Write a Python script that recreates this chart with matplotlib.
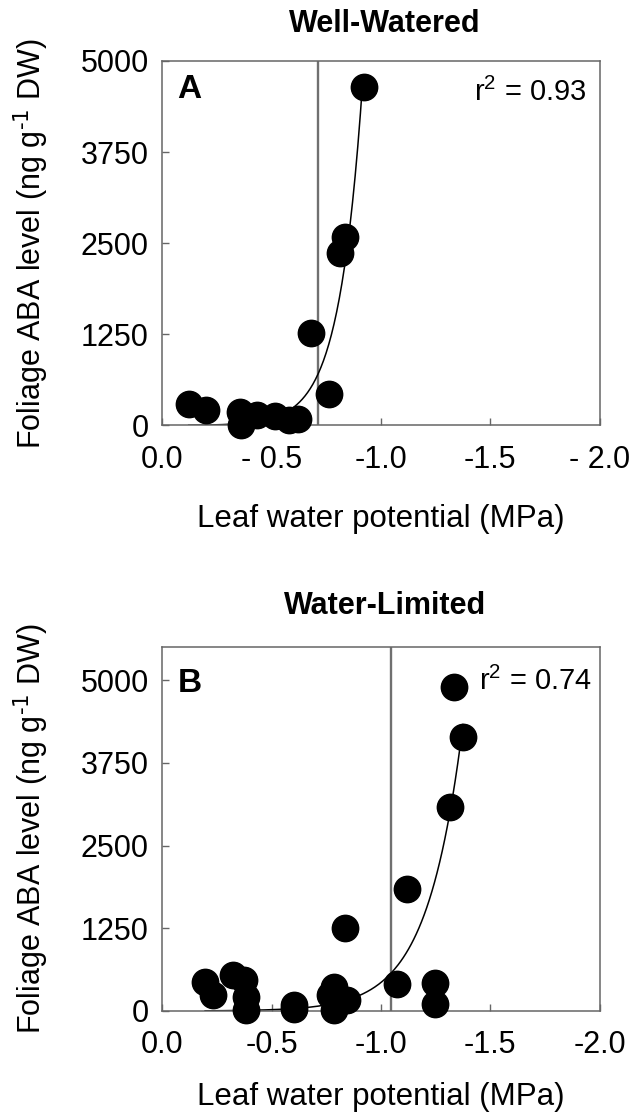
import matplotlib

matplotlib.use("Agg")
import matplotlib.pyplot as plt
import numpy as np

plt.rcParams.update({"font.family": ["Liberation Sans", "DejaVu Sans"]})
plt.rcParams.update({"mathtext.default": "regular"})

# panel A - well-watered
wet_psi = [-0.12, -0.20, -0.356, -0.36, -0.433, -0.517, -0.58, -0.62,
           -0.68, -0.76, -0.813, -0.833, -0.922]
wet_aba = [290, 206, 190, 10, 150, 125, 80, 90,
           1270, 430, 2370, 2580, 4640]

# panel B - water-limited
dry_psi = [-0.195, -0.233, -0.325, -0.371, -0.383, -0.383, -0.60, -0.60,
           -0.768, -0.784, -0.784, -0.845, -0.837, -1.074, -1.12,
           -1.245, -1.245, -1.314, -1.334, -1.375]
dry_aba = [438, 237, 539, 463, 211, 15, 90, 25,
           237, 362, 10, 161, 1258, 403, 1847,
           430, 110, 3078, 4890, 4135]

# exponential fits, ABA = a * exp(b * |psi|)
fit_a = [0.94, 0.92]
fit_b = [9.3, 6.15]
fit_r2 = ["0.93", "0.74"]
threshold = [-0.712, -1.044]

titles = ["Well-Watered", "Water-Limited"]
letters = ["A", "B"]
x_ticks = [0, -0.5, -1.0, -1.5, -2.0]
x_labels = [["0.0", "- 0.5", "-1.0", "-1.5", "- 2.0"],
            ["0.0", "-0.5", "-1.0", "-1.5", "-2.0"]]
y_ticks = [0, 1250, 2500, 3750, 5000]
y_top = [5000, 5500]

fig = plt.figure(figsize=(6.31, 11.17), dpi=100)
axes = [fig.add_axes([0.2575, 0.6191, 0.6926, 0.3263]),
        fig.add_axes([0.2575, 0.0949, 0.6926, 0.3259])]

panels = [(wet_psi, wet_aba), (dry_psi, dry_aba)]
title_y = [1.08, 1.09]
letter_y = [0.898, 0.877]
r2_pos = [(0.97, 0.89), (0.983, 0.882)]
xlabel_y = [-0.215, -0.196]

for i, ax in enumerate(axes):
    X, Y = panels[i]
    ax.axvline(threshold[i], color="#707070", linewidth=1.7, zorder=1)
    xs = np.linspace(min(X), max(X), 200)
    ys = fit_a[i] * np.exp(fit_b[i] * np.abs(xs))
    keep = ys <= y_top[i] * 0.985
    ax.plot(xs[keep], ys[keep], color="k", linewidth=1.1, zorder=2)
    ax.plot(X, Y, "o", color="k", markersize=19, zorder=3, clip_on=False)

    ax.set_xlim(0, -2.0)
    ax.set_ylim(0, y_top[i])
    ax.set_xticks(x_ticks)
    ax.set_xticklabels(x_labels[i])
    ax.set_yticks(y_ticks)
    ax.tick_params(direction="in", length=5, width=1, color="#666666",
                   labelsize=22)
    ax.tick_params(axis="x", pad=14)
    ax.tick_params(axis="y", pad=10)
    for s in ax.spines.values():
        s.set_color("#666666")
        s.set_linewidth(1.1)

    ax.set_xlabel("Leaf water potential (MPa)", fontsize=22.5)
    ax.xaxis.set_label_coords(0.5, xlabel_y[i])
    ax.set_ylabel("Foliage ABA level (ng g$^{\\text{-1}}$ DW)", fontsize=22)
    ax.yaxis.set_label_coords(-0.254, 0.5)

    ax.text(0.509, title_y[i], titles[i], transform=ax.transAxes,
            ha="center", va="baseline", fontsize=22, fontweight="bold")
    ax.text(0.034, letter_y[i], letters[i], transform=ax.transAxes,
            ha="left", va="baseline", fontsize=24, fontweight="bold")
    ax.text(r2_pos[i][0], r2_pos[i][1], "r$^2$ = " + fit_r2[i],
            transform=ax.transAxes, ha="right", va="baseline", fontsize=21)

fig.savefig("out.png", dpi=100)
